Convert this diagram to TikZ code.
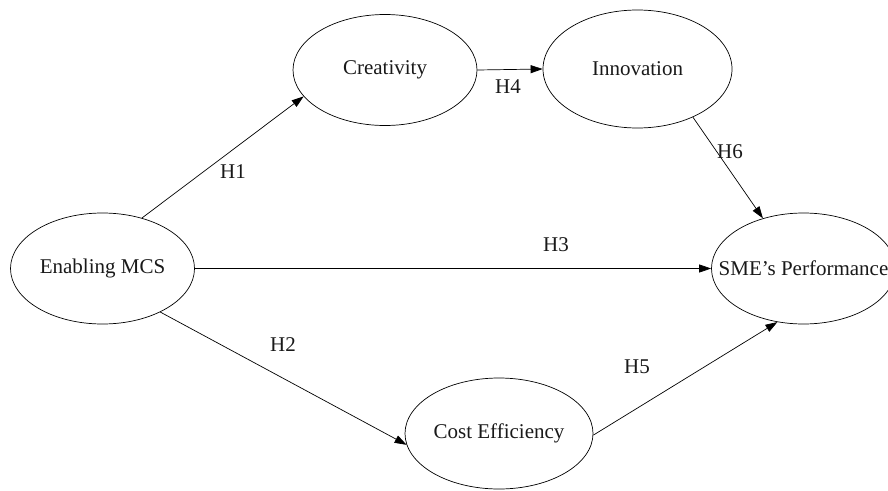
\documentclass[tikz,border=0pt]{standalone}
\usepackage{fontspec}
\setmainfont{Liberation Serif}
\usetikzlibrary{arrows.meta,shapes.geometric}
\tikzset{
  construct/.style={draw, ellipse, line width=0.7pt, inner sep=0pt, minimum width=184pt, minimum height=111pt},
  hyp/.style={draw, line width=0.7pt, -{Triangle[length=12pt,width=8pt]}},
  hlabel/.style={inner sep=0pt},
  every node/.style={font=\fontsize{21}{25}\selectfont, text=black!90}
}
\begin{document}
\begin{tikzpicture}[x=1pt,y=-1pt]
\useasboundingbox (0,0) rectangle (888,490);
\node[construct] (cre) at (385,70) {\makebox[0pt]{Creativity}};
\node[construct, minimum width=189pt, minimum height=118pt] (inn) at (637.5,69) {\makebox[0pt]{Innovation}};
\node[construct] (mcs) at (102.5,268.5) {\makebox[0pt]{Enabling MCS}};
\node[construct] (sme) at (803.5,268.5) {\makebox[0pt]{SME's Performance}};
\node[construct, minimum width=188pt] (cost) at (499,433.5) {\makebox[0pt]{Cost Efficiency}};

\draw[hyp] (mcs.52) -- (cre.198.6);
\draw[hyp] (cre.east) -- (inn.west);
\draw[hyp] (inn.-41.4) -- (sme.129.4);
\draw[hyp] (mcs.east) -- (sme.west);
\draw[hyp] (mcs.-37.1) -- (cost.187.1);
\draw[hyp] (cost.-1) -- (sme.244.9);

\node[hlabel] (h1) at (233,172) {H1};
\node[hlabel] (h4) at (508,87) {H4};
\node[hlabel] (h6) at (730,152) {H6};
\node[hlabel] (h3) at (556,245) {H3};
\node[hlabel] (h2) at (283,345) {H2};
\node[hlabel] (h5) at (637,367) {H5};
\end{tikzpicture}
\end{document}
